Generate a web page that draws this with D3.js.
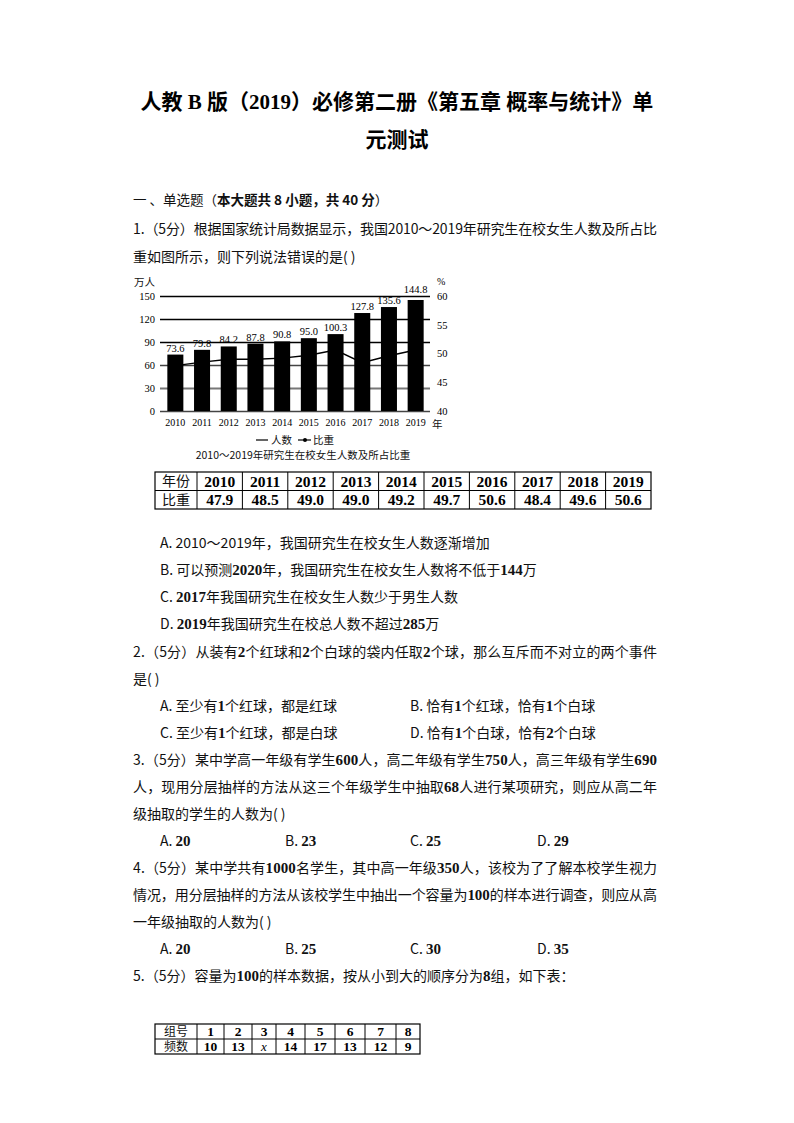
<!DOCTYPE html>
<html>
<head>
<meta charset="utf-8">
<script src="https://cdn.jsdelivr.net/npm/d3@7"></script>
<style>
body { margin: 0; background: #fff; }
svg { display: block; }
.cjk { font-family: "Noto Sans CJK SC", sans-serif; fill: #111; }
.num { font-family: "Liberation Serif", serif; font-weight: bold; }
.b { font-weight: bold; }
.ax text { font-family: "Liberation Serif", serif; font-size: 10.5px; fill: #000; }
</style>
</head>
<body>
<svg id="page" width="794" height="1123"></svg>
<script>
// chart data
var years = [2010, 2011, 2012, 2013, 2014, 2015, 2016, 2017, 2018, 2019];
var counts = [73.6, 79.8, 84.2, 87.8, 90.8, 95.0, 100.3, 127.8, 135.6, 144.8];
var ratios = [47.9, 48.5, 49.0, 49.0, 49.2, 49.7, 50.6, 48.4, 49.6, 50.6];
var leftTicks = [0, 30, 60, 90, 120, 150];
var rightTicks = [40, 45, 50, 55, 60];

// table in question 5
var groups = ["1", "2", "3", "4", "5", "6", "7", "8"];
var freqs = ["10", "13", "x", "14", "17", "13", "12", "9"];

var svg = d3.select('#page');
svg.append('rect').attr('width', 794).attr('height', 1123).attr('fill', '#fff');

// {..} = bold number, [..] = bold chinese
function richText(x, y, str, size, len) {
  var t = svg.append('text')
    .attr('class', 'cjk')
    .attr('x', x).attr('y', y).attr('dy', '0.36em')
    .style('font-size', size + 'px');
  str.split(/(\{[^}]*\}|\[[^\]]*\])/).forEach(function(s) {
    if (!s.length) return;
    if (s[0] == '{') t.append('tspan').attr('class', 'num').style('font-size', (size + 1) + 'px').text(s.slice(1, -1));
    else if (s[0] == '[') t.append('tspan').attr('class', 'b').text(s.slice(1, -1));
    else t.append('tspan').text(s);
  });
  if (len) t.attr('textLength', len).attr('lengthAdjust', 'spacing');
  return t;
}

// title
svg.append('text')
  .attr('x', 397).attr('y', 101).attr('dy', '0.36em')
  .attr('text-anchor', 'middle')
  .style('font-family', '"Liberation Serif", "Noto Sans CJK SC", serif')
  .style('font-weight', 'bold').style('font-size', '21px')
  .text('人教 B 版（2019）必修第二册《第五章 概率与统计》单');
svg.append('text')
  .attr('x', 397).attr('y', 139).attr('dy', '0.36em')
  .attr('text-anchor', 'middle')
  .style('font-family', '"Noto Sans CJK SC", serif')
  .style('font-weight', 'bold').style('font-size', '21px')
  .text('元测试');

richText(133, 200, '一 、单选题（[本大题共 8 小题，共 40 分]）', 13.5);

var W = 524;
richText(133, 229, '1.（5分）根据国家统计局数据显示，我国2010～2019年研究生在校女生人数及所占比', 14, W);
richText(133, 257, '重如图所示，则下列说法错误的是( )', 14);

// ---------- chart ----------
var x = d3.scaleBand().domain(years).range([162, 429]).paddingInner(0.4).paddingOuter(0.2);
var yL = d3.scaleLinear().domain([0, 150]).range([411, 296]);
var yR = d3.scaleLinear().domain([40, 60]).range([411, 296]);

var chart = svg.append('g');

var gl = chart.append('g').attr('class', 'ax')
  .attr('transform', 'translate(160,0)')
  .call(d3.axisLeft(yL).tickValues(leftTicks).tickSize(-270).tickPadding(5));
gl.select('.domain').remove();
gl.selectAll('.tick line')
  .attr('stroke', function(d) { return d == 30 ? '#777' : (d == 60 || d == 0 ? '#444' : '#000'); })
  .attr('stroke-width', function(d) { return d == 30 ? 1.8 : 1.3; });

var gr = chart.append('g').attr('class', 'ax')
  .attr('transform', 'translate(430,0)')
  .call(d3.axisRight(yR).tickValues(rightTicks).tickSize(0).tickPadding(7));
gr.select('.domain').remove();

var gb = chart.append('g').attr('class', 'ax')
  .attr('transform', 'translate(0,411)')
  .call(d3.axisBottom(x).tickSize(0).tickPadding(8));
gb.select('.domain').remove();
gb.selectAll('text').style('font-size', '10px');

chart.append('text').attr('class', 'cjk').attr('x', 134).attr('y', 282).attr('dy', '0.36em')
  .style('font-size', '10.5px').text('万人');
chart.append('text').attr('x', 437).attr('y', 281).attr('dy', '0.36em')
  .style('font-family', '"Liberation Serif", serif').style('font-size', '10px').text('%');
chart.append('text').attr('class', 'cjk').attr('x', 432).attr('y', 424).attr('dy', '0.36em')
  .style('font-size', '10.5px').text('年');

var line = d3.line()
  .x(function(d, i) { return x(years[i]) + x.bandwidth() / 2; })
  .y(function(d) { return yR(d); });
chart.append('path').datum(ratios)
  .attr('d', line).attr('fill', 'none').attr('stroke', '#000').attr('stroke-width', 1.4);

chart.selectAll('.bar').data(counts).enter().append('rect')
  .attr('class', 'bar')
  .attr('x', function(d, i) { return x(years[i]); })
  .attr('y', function(d) { return yL(d); })
  .attr('width', x.bandwidth())
  .attr('height', function(d) { return yL(0) - yL(d); })
  .attr('fill', '#000');

// value labels; a label squeezed right under the top gridline goes above it
var topLine = yL(leftTicks[leftTicks.length - 1]);
chart.selectAll('.lbl').data(counts).enter().append('text')
  .attr('class', 'lbl')
  .attr('x', function(d, i) { return x(years[i]) + x.bandwidth() / 2; })
  .attr('y', function(d) {
    var b = yL(d) - 3;
    return b < topLine + 6 ? topLine - 3 : b;
  })
  .attr('text-anchor', 'middle')
  .style('font-family', '"Liberation Serif", serif').style('font-size', '10.5px')
  .text(function(d) { return d.toFixed(1); });

// legend
var lg = chart.append('g');
lg.append('line').attr('x1', 256).attr('x2', 268).attr('y1', 440).attr('y2', 440).attr('stroke', '#000').attr('stroke-width', 1.2);
lg.append('text').attr('class', 'cjk').attr('x', 271).attr('y', 440).attr('dy', '0.36em').style('font-size', '10.5px').text('人数');
lg.append('line').attr('x1', 298).attr('x2', 311).attr('y1', 440).attr('y2', 440).attr('stroke', '#000').attr('stroke-width', 1.2);
lg.append('circle').attr('cx', 305).attr('cy', 440).attr('r', 2).attr('fill', '#000');
lg.append('text').attr('class', 'cjk').attr('x', 313).attr('y', 440).attr('dy', '0.36em').style('font-size', '10.5px').text('比重');
chart.append('text').attr('class', 'cjk').attr('x', 303).attr('y', 455).attr('dy', '0.36em')
  .attr('text-anchor', 'middle').style('font-size', '10.5px')
  .text('2010～2019年研究生在校女生人数及所占比重');

// ---------- tables ----------
function drawTable(left, top, rowH, colW, rows, fs) {
  var g = svg.append('g');
  var xs = [left];
  colW.forEach(function(w) { xs.push(xs[xs.length - 1] + w); });
  var bottom = top + rowH * rows.length;
  g.append('rect').attr('x', left).attr('y', top).attr('width', xs[xs.length - 1] - left)
    .attr('height', bottom - top).attr('fill', 'none').attr('stroke', '#000').attr('stroke-width', 1.2);
  for (var r = 1; r < rows.length; r++)
    g.append('line').attr('x1', left).attr('x2', xs[xs.length - 1]).attr('y1', top + r * rowH).attr('y2', top + r * rowH)
      .attr('stroke', '#000').attr('stroke-width', 1);
  for (var c = 1; c < xs.length - 1; c++)
    g.append('line').attr('x1', xs[c]).attr('x2', xs[c]).attr('y1', top).attr('y2', bottom)
      .attr('stroke', '#000').attr('stroke-width', 1);
  rows.forEach(function(row, r) {
    row.forEach(function(cell, c) {
      var t = g.append('text')
        .attr('x', (xs[c] + xs[c + 1]) / 2).attr('y', top + r * rowH + rowH / 2).attr('dy', '0.36em')
        .attr('text-anchor', 'middle').text(cell);
      if (c == 0) t.attr('class', 'cjk').style('font-size', fs + 'px');
      else if (cell == 'x') t.style('font-family', '"Liberation Serif", serif').style('font-style', 'italic').style('font-size', (fs + 1) + 'px');
      else t.attr('class', 'num').style('font-size', (fs + 1.5) + 'px');
    });
  });
}

var t1w = [42]; years.forEach(function() { t1w.push(45.4); });
drawTable(155, 472, 18.5,
  t1w,
  [['年份'].concat(years.map(String)), ['比重'].concat(ratios.map(function(d) { return d.toFixed(1); }))],
  14);

richText(160, 543, 'A. 2010～2019年，我国研究生在校女生人数逐渐增加', 14);
richText(160, 570, 'B. 可以预测{2020}年，我国研究生在校女生人数将不低于{144}万', 14);
richText(160, 597, 'C. {2017}年我国研究生在校女生人数少于男生人数', 14);
richText(160, 624, 'D. {2019}年我国研究生在校总人数不超过{285}万', 14);

richText(133, 652, '2.（5分）从装有{2}个红球和{2}个白球的袋内任取{2}个球，那么互斥而不对立的两个事件', 14, W);
richText(133, 679, '是( )', 14);
richText(160, 706, 'A. 至少有{1}个红球，都是红球', 14);
richText(410, 706, 'B. 恰有{1}个红球，恰有{1}个白球', 14);
richText(160, 733, 'C. 至少有{1}个红球，都是白球', 14);
richText(410, 733, 'D. 恰有{1}个白球，恰有{2}个白球', 14);

richText(133, 760, '3.（5分）某中学高一年级有学生{600}人，高二年级有学生{750}人，高三年级有学生{690}', 14, W);
richText(133, 787, '人，现用分层抽样的方法从这三个年级学生中抽取{68}人进行某项研究，则应从高二年', 14, W);
richText(133, 814, '级抽取的学生的人数为( )', 14);
richText(160, 841, 'A. {20}', 14);
richText(285, 841, 'B. {23}', 14);
richText(410, 841, 'C. {25}', 14);
richText(537, 841, 'D. {29}', 14);

richText(133, 868, '4.（5分）某中学共有{1000}名学生，其中高一年级{350}人，该校为了了解本校学生视力', 14, W);
richText(133, 895, '情况，用分层抽样的方法从该校学生中抽出一个容量为{100}的样本进行调查，则应从高', 14, W);
richText(133, 922, '一年级抽取的人数为( )', 14);
richText(160, 949, 'A. {20}', 14);
richText(285, 949, 'B. {25}', 14);
richText(410, 949, 'C. {30}', 14);
richText(537, 949, 'D. {35}', 14);

richText(133, 976, '5.（5分）容量为{100}的样本数据，按从小到大的顺序分为{8}组，如下表：', 14);

drawTable(155, 1024, 15, [42, 27, 28, 24, 29, 30, 30, 31, 24],
  [['组号'].concat(groups), ['频数'].concat(freqs)], 12);
</script>
</body>
</html>
